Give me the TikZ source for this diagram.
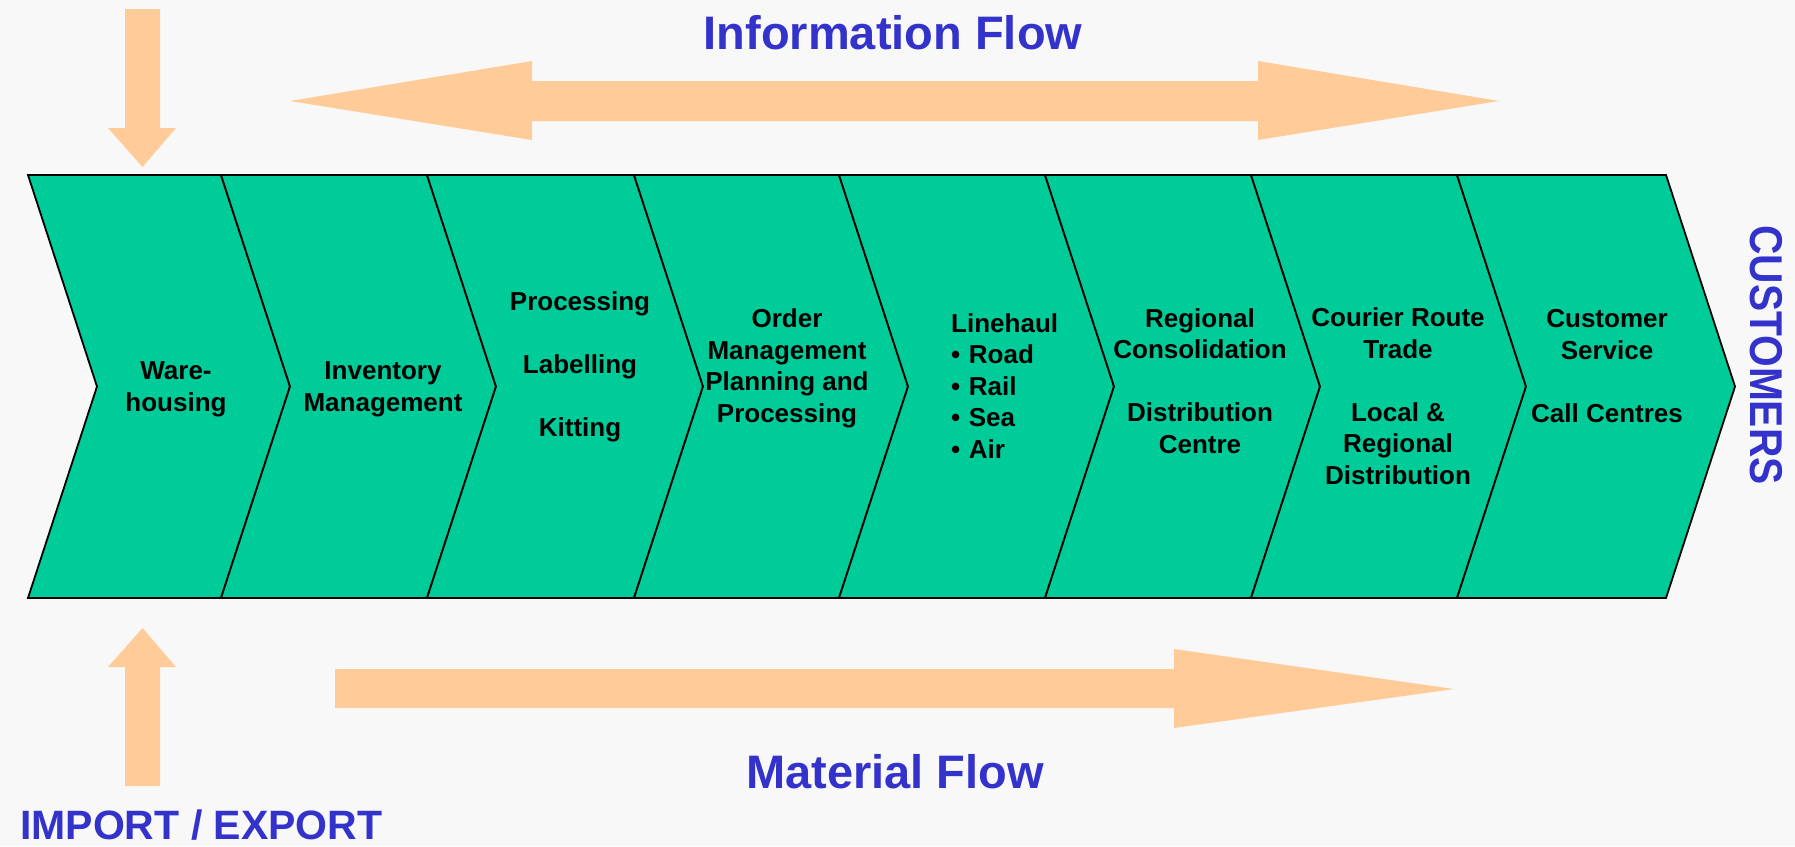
\documentclass[tikz,border=0pt]{standalone}
\usepackage{fontspec}
\setmainfont{Liberation Sans}
\usetikzlibrary{calc}

\definecolor{bgc}{RGB}{248,248,248}
\definecolor{stepgreen}{RGB}{0,204,153}
\definecolor{flowpeach}{RGB}{255,204,153}
\definecolor{titleblue}{RGB}{51,51,204}

\begin{document}
\begin{tikzpicture}[x=1pt,y=-1pt,
  chev/.style={fill=stepgreen,draw=black,line width=1.8pt,line join=miter},
  fatarrow/.style={fill=flowpeach,draw=none},
  % multi-line labels: the base anchor sits on the last line's baseline
  steptext/.style={font=\fontsize{26}{31.5}\selectfont\bfseries,text=black,
    align=center,inner sep=0pt,anchor=base},
  flowtitle/.style={font=\fontsize{47}{56}\selectfont\bfseries,text=titleblue,
    inner sep=0pt,anchor=base},
  sidetitle/.style={font=\fontsize{41}{48}\selectfont\bfseries,text=titleblue,
    inner sep=0pt}]

% page background
\fill[bgc] (0,0) rectangle (1795,846);
\useasboundingbox (0,0) rectangle (1795,846);

% chevron band: top 175, bottom 598, point depth 69
\def\ctop{175}\def\cbot{598}\def\cmid{386.5}\def\cdep{69}
\foreach \xl/\xr [count=\i] in {28/221,221/427,427/634,634/839,839/1045,1045/1251,1251/1457,1457/1666}{
  \draw[chev] (\xl,\ctop) -- (\xr,\ctop) -- (\xr+\cdep,\cmid) -- (\xr,\cbot)
    -- (\xl,\cbot) -- (\xl+\cdep,\cmid) -- cycle;
}

% step labels
\node[steptext] (ware) at (176,411) {Ware-\\housing};
\node[steptext] (inv) at (383,411) {Inventory\\Management};
\node[steptext] (proc) at (580,436) {Processing\\[31.5pt]Labelling\\[31.5pt]Kitting};
\node[steptext] (order) at (787,422) {Order\\Management\\Planning and\\Processing};
\node[steptext,align=left,anchor=base west] (line) at (951,458)
  {Linehaul\\•\hspace{0.33em}Road\\•\hspace{0.33em}Rail\\•\hspace{0.33em}Sea\\•\hspace{0.33em}Air};
\node[steptext] (region) at (1200,453) {Regional\\Consolidation\\[31.5pt]Distribution\\Centre};
\node[steptext] (courier) at (1398,484) {Courier Route\\Trade\\[31.5pt]Local \&\\Regional\\Distribution};
\node[steptext] (cust) at (1607,422) {Customer\\Service\\[31.5pt]Call Centres};

% information flow: double-headed arrow
\fill[fatarrow] (290,101) -- (532,61) -- (532,81) -- (1258,81) -- (1258,61)
  -- (1499,101) -- (1258,140) -- (1258,121) -- (532,121) -- (532,140) -- cycle;
\node[flowtitle] (info) at (893,49) {Information Flow};

% material flow: single arrow
\fill[fatarrow] (335,669) -- (1174,669) -- (1174,649) -- (1454,689)
  -- (1174,728) -- (1174,708) -- (335,708) -- cycle;
\node[flowtitle] (mat) at (895,788) {Material Flow};

% import / export arrows
\fill[fatarrow] (125,9) -- (160,9) -- (160,128) -- (176,128) -- (142.5,167)
  -- (108,128) -- (125,128) -- cycle;
\fill[fatarrow] (125,786) -- (160,786) -- (160,667) -- (176,667) -- (142.5,628)
  -- (108,667) -- (125,667) -- cycle;
\node[sidetitle,anchor=base west] (impexp) at (20,839) {IMPORT / EXPORT};

% customers label, running down the right side
\node[sidetitle,rotate=-90,font=\fontsize{46}{54}\selectfont\bfseries] (customers) at (1766,355)
  {\scalebox{0.885}[1]{CUSTOMERS}};

\end{tikzpicture}
\end{document}
